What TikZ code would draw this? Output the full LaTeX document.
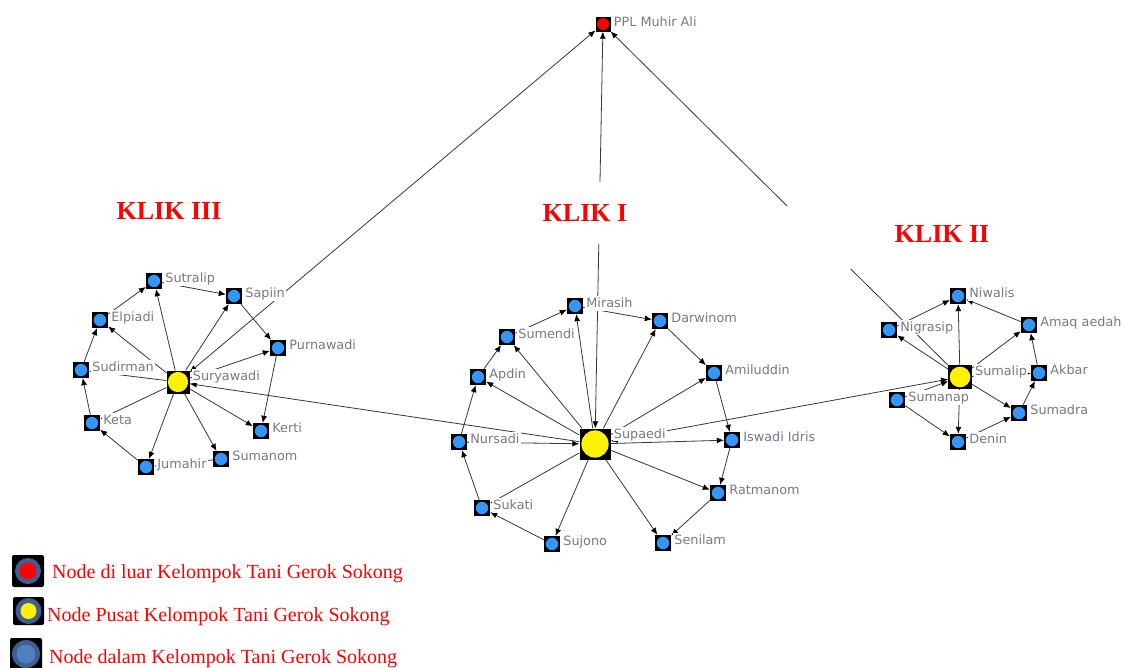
\documentclass[tikz,border=0pt]{standalone}
\usepackage{fontspec}
\usetikzlibrary{arrows.meta}
\newfontfamily\namafont{DejaVu Sans}
\newfontfamily\judulfont{Liberation Serif}

\definecolor{nodeblue}{RGB}{51,150,250}
\definecolor{linegray}{RGB}{55,55,55}
\definecolor{namegray}{RGB}{120,120,135}
\definecolor{ringblue}{RGB}{61,95,146}
\definecolor{innerblue}{RGB}{80,128,192}

\tikzset{
  anggota/.style={rectangle, fill=black, inner sep=0pt, minimum size=16pt,
    path picture={\fill[nodeblue] (path picture bounding box.center) circle (6.2pt);}},
  pusat/.style={rectangle, fill=black, inner sep=0pt, minimum size=#1,
    path picture={\fill[yellow] (path picture bounding box.center) circle [radius=0.44*#1];}},
  luar/.style={rectangle, fill=black, inner sep=0pt, minimum size=15pt,
    path picture={\fill[red] (path picture bounding box.center) circle (6pt);}},
  nama/.style={anchor=base west, xshift=2pt, yshift=-10pt, fill=white, text=namegray,
    inner xsep=1pt, inner ysep=0.5pt, text height=11pt, text depth=2.3pt,
    font=\namafont\fontsize{12.8}{14}\selectfont},
  klik/.style={fill=white, text=red, minimum height=62pt, minimum width=150pt,
    font=\judulfont\bfseries\fontsize{26}{30}\selectfont},
  legenda/.style={anchor=base west, text=red, inner sep=0pt,
    font=\judulfont\fontsize{20}{24}\selectfont},
  tie/.style={draw=linegray, line width=0.8pt, ->},
  twoway/.style={draw=linegray, line width=0.8pt, <->}
}

\begin{document}
\begin{tikzpicture}[x=1pt, y=-1pt, >={Latex[length=7pt,width=6pt,color=black]}]

        \fill[white] (0,0) rectangle (1125,667);
        \useasboundingbox (0,0) rectangle (1125,667);

        % Outside node
        \node[luar] (ppl) at (603,24) {};

        % Klik III
        \node[pusat=23pt] (suryawadi) at (178,382) {};
        \node[anggota] (sutralip) at (154,281) {};
        \node[anggota] (sapiin) at (234,296) {};
        \node[anggota] (elpiadi) at (100,320) {};
        \node[anggota] (purnawadi) at (278,348) {};
        \node[anggota] (sudirman) at (81,370) {};
        \node[anggota] (keta) at (92,423) {};
        \node[anggota] (kerti) at (261,431) {};
        \node[anggota] (jumahir) at (146,467) {};
        \node[anggota] (sumanom) at (221,459) {};

        % Klik I
        \node[pusat=31pt] (supaedi) at (595,444) {};
        \node[anggota] (mirasih) at (575,306) {};
        \node[anggota] (darwinom) at (660,321) {};
        \node[anggota] (sumendi) at (507,337) {};
        \node[anggota] (apdin) at (478,377) {};
        \node[anggota] (amiluddin) at (714,373) {};
        \node[anggota] (nursadi) at (459,442) {};
        \node[anggota] (iswadi) at (732,440) {};
        \node[anggota] (ratmanom) at (718,493) {};
        \node[anggota] (sukati) at (482,508) {};
        \node[anggota] (sujono) at (552,544) {};
        \node[anggota] (senilam) at (663,543) {};

        % Klik II
        \node[pusat=23.5pt] (sumalip) at (960,377) {};
        \node[anggota] (niwalis) at (958,296) {};
        \node[anggota] (nigrasip) at (889,330) {};
        \node[anggota] (amaq) at (1029,325) {};
        \node[anggota] (akbar) at (1039,373) {};
        \node[anggota] (sumanap) at (897,400) {};
        \node[anggota] (sumadra) at (1019,413) {};
        \node[anggota] (denin) at (958,442) {};

        % Ties in Klik III
        \draw[tie] (elpiadi) -- (sutralip);
        \draw[tie] (sutralip) -- (sapiin);
        \draw[tie] (sapiin) -- (purnawadi);
        \draw[tie] (purnawadi) -- (kerti);
        \draw[tie] (suryawadi) -- (sutralip);
        \draw[tie] (suryawadi) -- (sapiin);
        \draw[tie] (suryawadi) -- (elpiadi);
        \draw[tie] (suryawadi) -- (purnawadi);
        \draw[tie] (suryawadi) -- (sudirman);
        \draw[tie] (sudirman) -- (elpiadi);
        \draw[tie] (keta) -- (sudirman);
        \draw[tie] (jumahir) -- (keta);
        \draw[tie] (suryawadi) -- (keta);
        \draw[tie] (suryawadi) -- (jumahir);
        \draw[tie] (suryawadi) -- (sumanom);
        \draw[tie] (suryawadi) -- (kerti);
        \draw[tie] (sumanom) -- (jumahir);

        % Ties in Klik I
        \draw[tie] (sumendi) -- (mirasih);
        \draw[tie] (mirasih) -- (darwinom);
        \draw[tie] (darwinom) -- (amiluddin);
        \draw[tie] (amiluddin) -- (iswadi);
        \draw[tie] (iswadi) -- (ratmanom);
        \draw[tie] (ratmanom) -- (senilam);
        \draw[tie] (supaedi) -- (senilam);
        \draw[tie] (supaedi) -- (ratmanom);
        \draw[tie] (supaedi) -- (iswadi);
        \draw[tie] (supaedi) -- (amiluddin);
        \draw[tie] (supaedi) -- (darwinom);
        \draw[tie] (supaedi) -- (mirasih);
        \draw[tie] (supaedi) -- (sumendi);
        \draw[tie] (supaedi) -- (apdin);
        \draw[tie] (apdin) -- (sumendi);
        \draw[tie] (nursadi) -- (apdin);
        \draw[tie] (sukati) -- (nursadi);
        \draw[tie] (sujono) -- (sukati);
        \draw[tie] (supaedi) -- (sujono);
        \draw[tie] (supaedi) -- (sukati);
        \draw[tie] (nursadi) -- (supaedi);

        % Ties in Klik II
        \draw[tie] (nigrasip) -- (niwalis);
        \draw[tie] (amaq) -- (niwalis);
        \draw[tie] (sumalip) -- (niwalis);
        \draw[tie] (sumalip) -- (nigrasip);
        \draw[tie] (sumalip) -- (amaq);
        \draw[tie] (akbar) -- (amaq);
        \draw[tie] (sumalip) -- (akbar);
        \draw[tie] (sumadra) -- (akbar);
        \draw[tie] (sumalip) -- (sumadra);
        \draw[tie] (denin) -- (sumadra);
        \draw[tie] (sumalip) -- (denin);
        \draw[tie] (sumanap) -- (denin);
        \draw[tie] (sumanap) -- (sumalip);

        % Ties between the centres
        \draw[tie] (supaedi) -- (suryawadi);
        \draw[twoway] (supaedi) -- (sumalip);
        \draw[twoway] (suryawadi) -- (ppl);
        \draw[twoway] (supaedi) -- (ppl);
        \draw[tie] (sumalip) -- (ppl);

        % Names
        \node[nama] (ppl-t) at (ppl.north east) {PPL Muhir Ali};
        \node[nama] (suryawadi-t) at (suryawadi.north east) {Suryawadi};
        \node[nama] (sutralip-t) at (sutralip.north east) {Sutralip};
        \node[nama] (sapiin-t) at (sapiin.north east) {Sapiin};
        \node[nama] (elpiadi-t) at (elpiadi.north east) {Elpiadi};
        \node[nama] (purnawadi-t) at (purnawadi.north east) {Purnawadi};
        \node[nama] (sudirman-t) at (sudirman.north east) {Sudirman};
        \node[nama] (keta-t) at (keta.north east) {Keta};
        \node[nama] (kerti-t) at (kerti.north east) {Kerti};
        \node[nama] (jumahir-t) at (jumahir.north east) {Jumahir};
        \node[nama] (sumanom-t) at (sumanom.north east) {Sumanom};
        \node[nama] (supaedi-t) at (supaedi.north east) {Supaedi};
        \node[nama] (mirasih-t) at (mirasih.north east) {Mirasih};
        \node[nama] (darwinom-t) at (darwinom.north east) {Darwinom};
        \node[nama] (sumendi-t) at (sumendi.north east) {Sumendi};
        \node[nama] (apdin-t) at (apdin.north east) {Apdin};
        \node[nama] (amiluddin-t) at (amiluddin.north east) {Amiluddin};
        \node[nama] (nursadi-t) at (nursadi.north east) {Nursadi};
        \node[nama] (iswadi-t) at (iswadi.north east) {Iswadi Idris};
        \node[nama] (ratmanom-t) at (ratmanom.north east) {Ratmanom};
        \node[nama] (sukati-t) at (sukati.north east) {Sukati};
        \node[nama] (sujono-t) at (sujono.north east) {Sujono};
        \node[nama] (senilam-t) at (senilam.north east) {Senilam};
        \node[nama] (sumalip-t) at (sumalip.north east) {Sumalip};
        \node[nama] (niwalis-t) at (niwalis.north east) {Niwalis};
        \node[nama] (nigrasip-t) at (nigrasip.north east) {Nigrasip};
        \node[nama] (amaq-t) at (amaq.north east) {Amaq aedah};
        \node[nama] (akbar-t) at (akbar.north east) {Akbar};
        \node[nama] (sumanap-t) at (sumanap.north east) {Sumanap};
        \node[nama] (sumadra-t) at (sumadra.north east) {Sumadra};
        \node[nama] (denin-t) at (denin.north east) {Denin};

        % Klik titles
        \node[klik] (klik3) at (169,211) {KLIK III};
        \node[klik] (klik1) at (585,213) {KLIK I};
        \node[klik, minimum width=310pt, minimum height=70pt] (klik2) at (942,234) {KLIK II};

        % Legend
        \fill[black, rounded corners=2pt] (12,555) rectangle (44,587);
        \fill[ringblue] (28,571) circle (13pt);
        \fill[red] (28,571) circle (8.5pt);
        \node[legenda] (leg1) at (52,578) {Node di luar Kelompok Tani Gerok Sokong};

        \fill[black, rounded corners=2pt] (13,597) rectangle (44,625);
        \fill[ringblue] (28.5,611) circle (13pt);
        \fill[yellow] (28.5,611) circle (8pt);
        \node[legenda] (leg2) at (47,621) {Node Pusat Kelompok Tani Gerok Sokong};

        \fill[black, rounded corners=2pt] (10,638) rectangle (42,670);
        \fill[ringblue] (26,654) circle (14pt);
        \fill[innerblue] (26,654) circle (9.5pt);
        \node[legenda] (leg3) at (49,663) {Node dalam Kelompok Tani Gerok Sokong};

    \end{tikzpicture}
\end{document}
